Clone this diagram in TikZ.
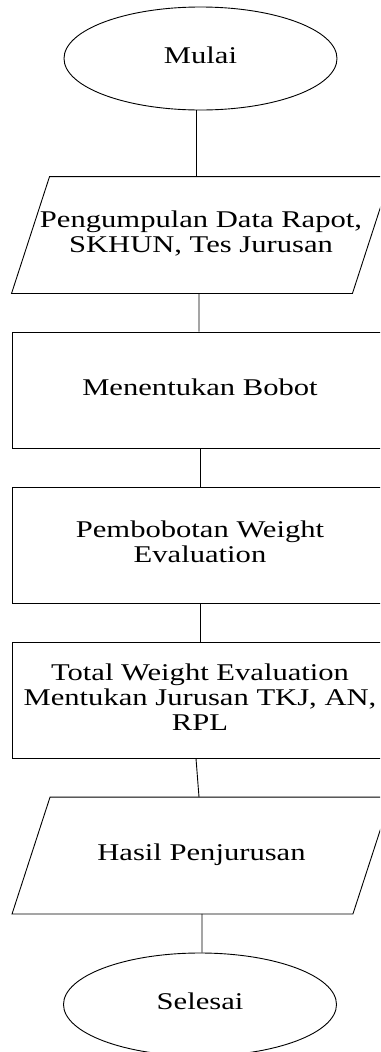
\documentclass[tikz,border=0pt]{standalone}
\usepackage{fontspec}
\usepackage{graphicx}
\setmainfont{Liberation Serif}
\usetikzlibrary{shapes.geometric}
% horizontally widened, centred multi-line label
\newcommand{\widelabel}[1]{\scalebox{1.275}[1]{\begin{tabular}{@{}c@{}}#1\end{tabular}}}
\begin{document}
\begin{tikzpicture}[x=1bp,y=-1bp,line width=0.9bp,
  every node/.style={font=\fontsize{24bp}{25bp}\selectfont, inner sep=0pt},
  terminal/.style={draw, ellipse, minimum width=273bp, minimum height=103bp},
  process/.style={draw, rectangle, minimum width=376bp, minimum height=116bp},
  iobox/.style={rectangle, minimum width=340bp, minimum height=116bp},
  link/.style={draw, line width=0.9bp}]
\clip (0,0) rectangle (380,1052);

% start / end terminals
\node[terminal] (start) at (200.5,58.5) {\widelabel{Mulai}};
\node[terminal] (end) at (200,1004.5) {\widelabel{Selesai}};

% input / output boxes (parallelograms drawn around their nodes)
\node[iobox] (input) at (201,235) {\widelabel{Pengumpulan Data Rapot,\\SKHUN, Tes Jurusan}};
\draw ([xshift=19bp]input.north west) -- ([xshift=19bp]input.north east)
  -- ([xshift=-19bp]input.south east) -- ([xshift=-19bp]input.south west) -- cycle;
\node[iobox] (result) at (201.5,855.5) {\widelabel{Hasil Penjurusan}};
\draw ([xshift=19bp]result.north west) -- ([xshift=19bp]result.north east)
  -- ([xshift=-19bp]result.south east) -- ([xshift=-19bp]result.south west) -- cycle;

% processing steps
\node[process] (weight) at (200,390) {\widelabel{Menentukan Bobot}};
\node[process] (scoring) at (200,545) {\widelabel{Pembobotan Weight\\Evaluation}};
\node[process] (total) at (200,700) {\raisebox{2bp}{\widelabel{Total Weight Evaluation\\Mentukan Jurusan TKJ, AN,\\RPL}}};

% connectors
\draw[link] ([xshift=-4.5bp]start.south) -- ([xshift=-5bp]input.north);
\draw[link] ([xshift=-2bp]input.south) -- ([xshift=-1bp]weight.north);
\draw[link] (weight.south) -- (scoring.north);
\draw[link] (scoring.south) -- (total.north);
\draw[link] ([xshift=-4bp]total.south) -- ([xshift=-2.5bp]result.north);
\draw[link] ([xshift=0.5bp]result.south) -- ([xshift=2bp]end.north);
\end{tikzpicture}
\end{document}
